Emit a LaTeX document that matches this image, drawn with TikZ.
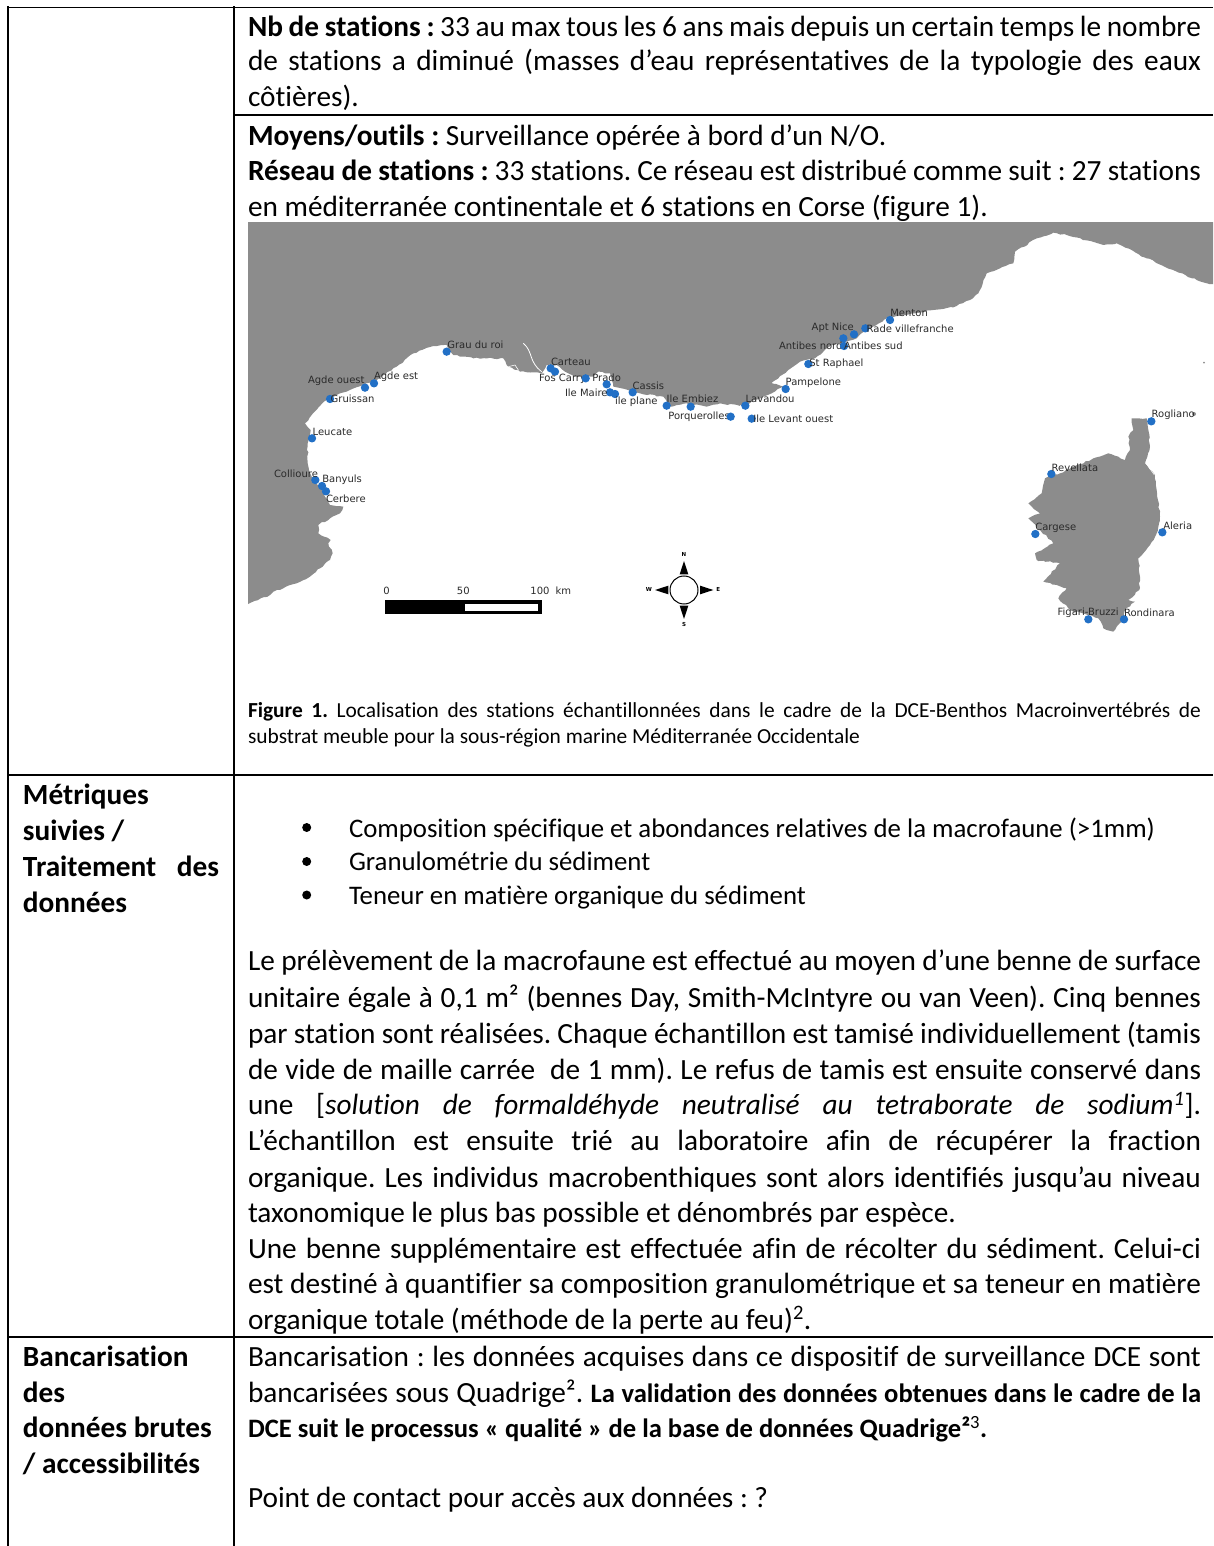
\documentclass[tikz,border=0pt]{standalone}
\usepackage{fontspec}
\usetikzlibrary{decorations.pathmorphing}
\setmainfont{Carlito}[Ligatures=NoCommon]
\newfontfamily\mapfont{DejaVu Sans}
\definecolor{land}{HTML}{8C8C8C}
\definecolor{dotc}{HTML}{2270C6}
\definecolor{maptxt}{HTML}{2A2A2A}
\newcommand{\bsz}{\fontsize{29.3}{35}\selectfont\frenchspacing}
\newcommand{\capsz}{\fontsize{21.4}{25}\selectfont\frenchspacing}
\newcommand{\boldsz}{\fontsize{26.6}{30}\selectfont\frenchspacing}
\newcommand{\jl}[2]{\node[txt] at (248,#1) {\hbox to 953pt{\bsz #2}};}
\newcommand{\pl}[3]{\node[txt] at (#1,#2) {\bsz #3};}
\newcommand{\pb}[2]{\node[txt] at (349,#1) {\fontsize{26.8}{32}\selectfont\frenchspacing #2};}
\newcommand{\stn}[5]{\fill[dotc] (#1,#2) circle (12.5);\node[maplabel] at (#3,#4) {#5};}
\tikzset{
 txt/.style={anchor=base west,inner sep=0pt,outer sep=0pt,font=\bsz,yshift=-2pt},
 rule/.style={line width=1.9pt,black},
 coast/.style={decorate,decoration={random steps,segment length=3.5pt,amplitude=0.8pt}},
 maplabel/.style={anchor=west,inner sep=0pt,outer sep=0pt,text=maptxt,font=\mapfont\fontsize{10}{12}\selectfont},
 compasslabel/.style={anchor=center,inner sep=0pt,font=\mapfont\bfseries\fontsize{5.5}{6}\selectfont},
 z1/.style={shift={(240,230)},x=0.33333pt,y=-0.33333pt},
 z2/.style={shift={(720,230)},x=0.33333pt,y=-0.33333pt}
}
\begin{document}
\begin{tikzpicture}[x=1pt,y=-1pt]
\useasboundingbox (0,0) rectangle (1213,1546);
\pgfmathsetseed{7}
% map land
\begin{scope}
\clip (248,223) rectangle (1213,650);
\begin{scope}[z1]
\fill[land,coast] (-40,-60) -- (-40,1140) -- (24,1122) -- (90,1095) -- (100,1085) -- (130,1075) -- (170,1060) -- (210,1040) -- (240,1015) -- (270,990) -- (278,970) -- (265,940) -- (272,930) -- (235,910) -- (235,885) -- (270,865) -- (300,850) -- (310,830) -- (270,825) -- (255,800) -- (240,770) -- (215,740) -- (203,700) -- (203,640) -- (212,600) -- (195,580) -- (215,555) -- (260,510) -- (300,490) -- (370,465) -- (410,450) -- (470,410) -- (520,370) -- (580,348) -- (620,345) -- (640,375) -- (700,385) -- (790,385) -- (805,410) -- (840,425) -- (905,430) -- (920,405) -- (950,405) -- (975,425) -- (1010,440) -- (1060,440) -- (1075,425) -- (1110,430) -- (1120,470) -- (1170,482) -- (1200,490) -- (1270,500) -- (1290,530) -- (1340,520) -- (1400,530) -- (1440,520) -- (1500,528) -- (1500,-60) -- cycle;
\draw[white,line width=0.8pt] (850,340) .. controls (880,365) and (865,395) .. (905,425);
\draw[white,line width=0.6pt] (805,410) -- (825,405) -- (835,420);
\end{scope}
\begin{scope}[z2]
\fill[land,coast] (-20,-60) -- (-20,518) -- (50,520) -- (75,530) -- (95,515) -- (155,490) -- (190,470) -- (155,458) -- (205,420) -- (240,395) -- (285,385) -- (310,365) -- (335,345) -- (370,340) -- (410,325) -- (440,300) -- (500,265) -- (580,250) -- (640,240) -- (700,232) -- (750,210) -- (775,190) -- (800,130) -- (880,100) -- (885,65) -- (950,25) -- (1000,8) -- (1040,15) -- (1150,45) -- (1190,40) -- (1280,85) -- (1430,150) -- (1520,175) -- (1520,-60) -- cycle;
\fill[land,coast] (1235,565) -- (1280,565) -- (1285,600) -- (1290,650) -- (1275,700) -- (1305,735) -- (1310,780) -- (1320,860) -- (1310,910) -- (1290,945) -- (1255,985) -- (1260,1040) -- (1258,1080) -- (1225,1110) -- (1245,1115) -- (1215,1140) -- (1205,1175) -- (1190,1190) -- (1180,1205) -- (1150,1195) -- (1135,1165) -- (1050,1140) -- (1015,1105) -- (1040,1075) -- (970,1055) -- (1020,1000) -- (950,990) -- (945,970) -- (1000,940) -- (960,900) -- (925,865) -- (960,850) -- (925,820) -- (965,790) -- (975,745) -- (1020,730) -- (1120,685) -- (1165,670) -- (1215,690) -- (1230,660) -- (1225,620) -- (1240,600) -- cycle;
\fill[land] (1452,398) circle (3);
\fill[land] (1422,552) circle (6);
\draw[white,line width=0.5pt] (1278,700) -- (1303,735);
\end{scope}
\end{scope}
% stations, west part
\begin{scope}[z1]
\stn{620}{365}{622}{345}{Grau du roi}
\stn{932}{415}{933}{396}{Carteau}
\stn{945}{425}{897}{446}{Fos Carry}
\stn{1037}{445}{1057}{443}{Prado}
\stn{1100}{463}{1178}{467}{Cassis}
\stn{1110}{487}{975}{487}{Ile Maire}
\stn{1125}{492}{1125}{514}{ile plane}
\stn{1178}{487}{1280}{507}{Ile Embiez}
\stn{1280}{527}{1285}{560}{Porquerolles}
\fill[dotc] (1352,530) circle (12.5);
\stn{402}{460}{402}{440}{Agde est}
\stn{375}{473}{204}{453}{Agde ouest}
\stn{270}{507}{272}{507}{Gruissan}
\stn{216}{625}{218}{605}{Leucate}
\stn{226}{750}{102}{731}{Collioure}
\stn{246}{768}{247}{748}{Banyuls}
\stn{258}{784}{258}{806}{Cerbere}
\fill[dotc] (1472,560) circle (12.5);
% scale bar
\fill[black] (435,1110) rectangle (905,1152);
\fill[white] (675,1122) rectangle (895,1142);
\node[maplabel,anchor=center] at (440,1083) {0};
\node[maplabel,anchor=center] at (670,1083) {50};
\node[maplabel,anchor=center] at (900,1083) {100};
\node[maplabel,anchor=center] at (970,1083) {km};
% compass
\draw[black,line width=1pt] (1332,1080) circle (42);
\fill[black] (1332,993) -- (1345,1033) -- (1319,1033) -- cycle;
\fill[black] (1332,1167) -- (1345,1127) -- (1319,1127) -- cycle;
\fill[black] (1245,1080) -- (1285,1067) -- (1285,1093) -- cycle;
\fill[black] (1420,1080) -- (1380,1067) -- (1380,1093) -- cycle;
\node[compasslabel] at (1332,973) {N};
\node[compasslabel] at (1332,1183) {S};
\node[compasslabel] at (1227,1078) {W};
\node[compasslabel] at (1435,1078) {E};
\end{scope}
\begin{scope}[z2]
\stn{76}{527}{77}{507}{Lavandou}
\stn{95}{566}{100}{566}{Ile Levant ouest}
\stn{197}{477}{197}{457}{Pampelone}
\stn{265}{402}{268}{402}{St Raphael}
\stn{370}{325}{177}{348}{Antibes nord}
\stn{372}{348}{372}{348}{Antibes sud}
\stn{402}{313}{275}{293}{Apt Nice}
\stn{436}{295}{440}{295}{Rade villefranche}
\stn{510}{270}{511}{250}{Menton}
\stn{994}{732}{995}{712}{Revellata}
\stn{1294}{574}{1295}{553}{Rogliano}
\stn{946}{912}{946}{892}{Cargese}
\stn{1327}{907}{1330}{887}{Aleria}
\stn{1105}{1168}{1013}{1148}{Figari-Bruzzi}
\stn{1212}{1168}{1212}{1148}{Rondinara}
\end{scope}
% table rules
\draw[rule] (7.7,7.5) -- (1213,7.5);
\draw[rule] (7.7,6.5) -- (7.7,1546);
\draw[rule] (234,6.5) -- (234,1546);
\draw[rule] (234,115) -- (1213,115);
\draw[rule] (7.7,775) -- (1213,775);
\draw[rule] (7.7,1337.3) -- (1213,1337.3);
% right column, top
\jl{34.5}{\textbf{Nb de stations :} 33 au max tous les 6 ans mais depuis un certain temps le nombre}
\jl{69}{de stations a diminué (masses d’eau représentatives de la typologie des eaux}
\pl{248}{105}{côtières).}
\pl{248}{144}{\textbf{Moyens/outils :} Surveillance opérée à bord d’un N/O.}
\jl{179}{\textbf{Réseau de stations :} 33 stations. Ce réseau est distribué comme suit : 27 stations}
\pl{248}{215}{en méditerranée continentale et 6 stations en Corse (figure 1).}
\node[txt] at (248,715) {\hbox to 953pt{\capsz\textbf{Figure 1.} Localisation des stations échantillonnées dans le cadre de la DCE-Benthos Macroinvertébrés de}};
\node[txt] at (248,741.5) {\capsz substrat meuble pour la sous-région marine Méditerranée Occidentale};
% left column
\pl{23}{802}{\textbf{Métriques}}
\pl{23}{838}{\textbf{suivies /}}
\node[txt] at (23,874) {\hbox to 196pt{\bsz\textbf{Traitement des}}};
\pl{23}{910}{\textbf{données}}
\pl{23}{1364}{\textbf{Bancarisation}}
\pl{23}{1400}{\textbf{des}}
\pl{23}{1435}{\textbf{données brutes}}
\pl{23}{1471}{\textbf{/ accessibilités}}
% bullets
\fill (306.7,827.5) circle (4.5);
\fill (306.7,861.5) circle (4.5);
\fill (306.7,895) circle (4.5);
\pb{835}{Composition spécifique et abondances relatives de la macrofaune (>1mm)}
\pb{868}{Granulométrie du sédiment}
\pb{902}{Teneur en matière organique du sédiment}
% paragraph
\jl{968}{Le prélèvement de la macrofaune est effectué au moyen d’une benne de surface}
\jl{1005}{unitaire égale à 0,1 m² (bennes Day, Smith-McIntyre ou van Veen). Cinq bennes}
\jl{1041}{par station sont réalisées. Chaque échantillon est tamisé individuellement (tamis}
\jl{1077}{de vide de maille carrée\ \ de 1 mm). Le refus de tamis est ensuite conservé dans}
\jl{1112.5}{une [\textit{solution de formaldéhyde neutralisé au tetraborate de sodium\textsuperscript{1}}].}
\jl{1148.5}{L’échantillon est ensuite trié au laboratoire afin de récupérer la fraction}
\jl{1185}{organique. Les individus macrobenthiques sont alors identifiés jusqu’au niveau}
\pl{248}{1220}{taxonomique le plus bas possible et dénombrés par espèce.}
\jl{1256.5}{Une benne supplémentaire est effectuée afin de récolter du sédiment. Celui-ci}
\jl{1291.5}{est destiné à quantifier sa composition granulométrique et sa teneur en matière}
\pl{248}{1327}{organique totale (méthode de la perte au feu)\textsuperscript{2}.}
% last row
\jl{1364}{Bancarisation : les données acquises dans ce dispositif de surveillance DCE sont}
\node[txt] at (248,1400) {\hbox to 953pt{\bsz bancarisées sous Quadrige². {\boldsz\bfseries La validation des données obtenues dans le cadre de la}}};
\node[txt] at (248,1435.5) {\boldsz\textbf{DCE suit le processus « qualité » de la base de données Quadrige²}\textsuperscript{3}\textbf{.}};
\pl{248}{1505}{Point de contact pour accès aux données : ?}
\end{tikzpicture}
\end{document}
